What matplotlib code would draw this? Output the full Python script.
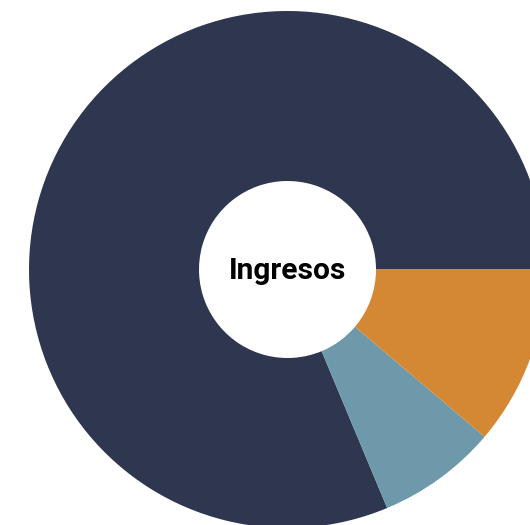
import matplotlib
matplotlib.use("Agg")
import matplotlib.pyplot as plt

# Data
labels = ["Otros", "Transferencias", "Impuestos"]
values = [81.3, 7.5, 11.2]
colors = ["#2F3650", "#6D99AB", "#D58833"]
center_text = "Ingresos"

# Layout (pixels of the reference)
W, H = 530, 525
cx, cy, R = 287.5, 269.5, 258.5
r_hole = 88.5

fig = plt.figure(figsize=(W / 100, H / 100), dpi=100)
ax = fig.add_axes([0, 0, 1, 1])

ax.pie(values, colors=colors, startangle=0, counterclock=True,
       radius=1.0, wedgeprops=dict(width=1.0 - r_hole / R, linewidth=0))

ax.set_aspect("auto")
ax.set_xlim(-cx / R, (W - cx) / R)
ax.set_ylim(-(H - cy) / R, cy / R)
ax.axis("off")

ax.text(0, -0.005, center_text, ha="center", va="center", fontsize=21.5,
        fontweight="bold", family=["Roboto", "DejaVu Sans"],
        color="black")

fig.savefig("out.png", dpi=100)
plt.close(fig)
